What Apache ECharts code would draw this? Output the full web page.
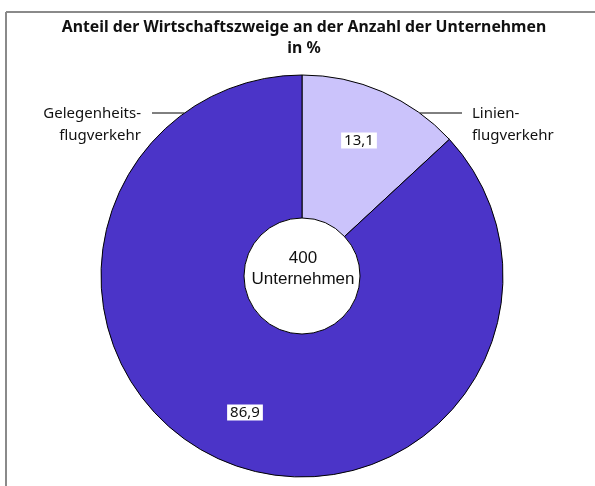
<!DOCTYPE html>
<html>
<head>
<meta charset="utf-8">
<script src="https://cdn.jsdelivr.net/npm/echarts@6/dist/echarts.min.js"></script>
<style>
  html, body { margin: 0; padding: 0; background: #fff; }
  #chart { width: 595px; height: 486px; }
</style>
</head>
<body>
<div id="chart"></div>
<script>
const categories = ['Linien-\nflugverkehr', 'Gelegenheits-\nflugverkehr'];
const values = [13.1, 86.9];
const colors = ['#cbc3fb', '#4b34c8'];
const totalCount = 400;
const totalLabel = 'Unternehmen';

const chartDom = document.getElementById('chart');
const myChart = echarts.init(chartDom);

const center = [302, 276];
const fontFamily = '"Noto Sans", "Open Sans", sans-serif';

const pieData = categories.map((name, i) => ({
  name: name,
  value: values[i],
  itemStyle: { color: colors[i] }
}));

const option = {
  animation: false,
  title: {
    text: 'Anteil der Wirtschaftszweige an der Anzahl der Unternehmen\nin %',
    left: 299,
    textAlign: 'center',
    top: 12,
    textStyle: {
      fontFamily: fontFamily,
      fontSize: 15.8,
      fontWeight: 'bold',
      color: '#111',
      lineHeight: 21
    }
  },
  graphic: [
    { type: 'line', shape: { x1: 6, y1: 12, x2: 595, y2: 12 }, style: { stroke: '#8a8a8a', lineWidth: 2 } },
    { type: 'line', shape: { x1: 6, y1: 12, x2: 6, y2: 486 }, style: { stroke: '#8a8a8a', lineWidth: 2 } },
    {
      type: 'text',
      x: center[0] + 1,
      y: center[1] - 7,
      style: {
        text: totalCount + '\n' + totalLabel,
        align: 'center',
        verticalAlign: 'middle',
        fontFamily: '"Liberation Sans", Arial, sans-serif',
        fontSize: 17,
        lineHeight: 21,
        fill: '#111'
      },
      z: 10
    }
  ],
  series: [
    {
      type: 'pie',
      center: center,
      radius: [58, 201],
      startAngle: 90,
      clockwise: true,
      silent: true,
      data: pieData,
      itemStyle: { borderColor: '#000', borderWidth: 1 },
      label: {
        show: true,
        position: 'inside',
        formatter: p => String(p.value).replace('.', ','),
        fontFamily: fontFamily,
        fontSize: 15,
        color: '#111',
        backgroundColor: '#fff',
        padding: [1, 3, 0, 3]
      },
      labelLayout: function (p) {
        if (p.dataIndex === 0) return { dx: 4, dy: -14 };
        return { dx: -4, dy: 15 };
      },
      labelLine: { show: false }
    },
    {
      type: 'pie',
      center: center,
      radius: [58, 201],
      startAngle: 90,
      clockwise: true,
      silent: true,
      z: 1,
      data: pieData.map(d => ({ name: d.name, value: d.value })),
      itemStyle: { color: 'rgba(0,0,0,0)' },
      label: {
        show: true,
        position: 'outside',
        formatter: '{b}',
        fontFamily: fontFamily,
        fontSize: 15,
        lineHeight: 22,
        color: '#111'
      },
      labelLine: { show: true, lineStyle: { color: '#000', width: 1 } },
      labelLayout: function (p) {
        const y = 113;
        const dy = center[1] - y;
        const dx = Math.sqrt(201 * 201 - dy * dy);
        if (p.dataIndex === 0) {
          return {
            x: 472, y: 125, align: 'left', verticalAlign: 'middle',
            labelLinePoints: [[center[0] + dx, y], [462, y], [462, y]]
          };
        }
        return {
          x: 141, y: 125, align: 'right', verticalAlign: 'middle',
          labelLinePoints: [[center[0] - dx, y], [152, y], [152, y]]
        };
      }
    }
  ]
};

option && myChart.setOption(option);
</script>
</body>
</html>
